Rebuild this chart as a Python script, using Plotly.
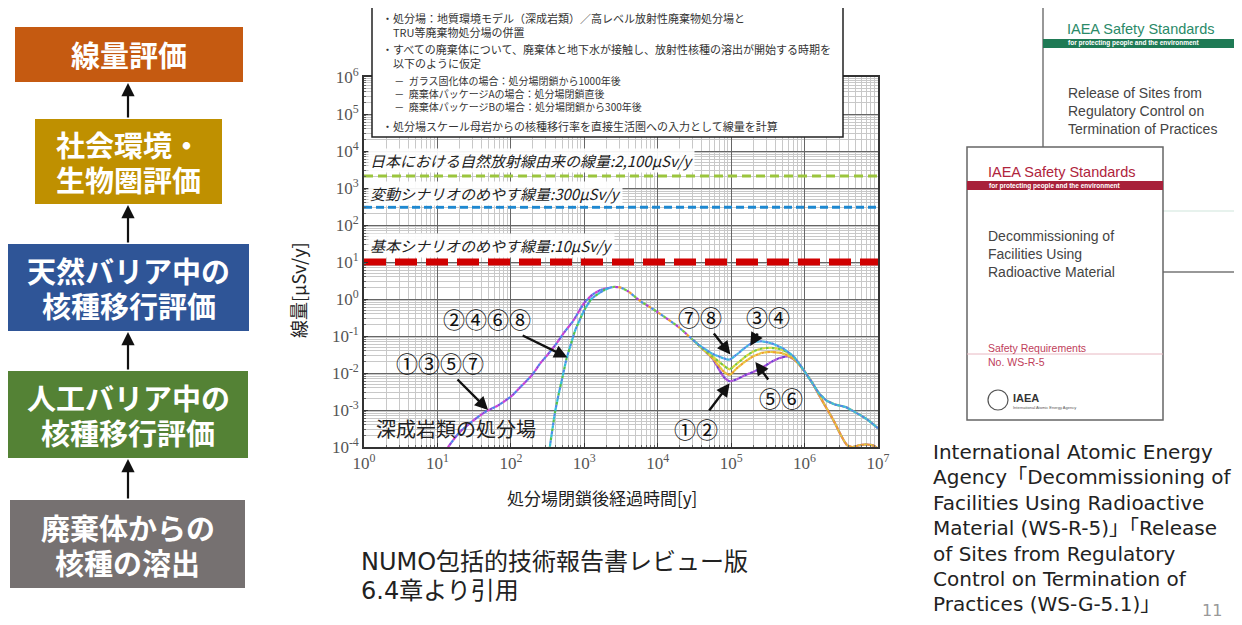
import plotly.graph_objects as go

# ---------------- data ----------------
# time after repository closure [y] and dose [uSv/y]
t_early_A = [12, 14, 20, 30, 45, 70, 100, 140, 195, 250, 320, 400, 540, 700, 1000, 1300, 1700, 2200]
d_early_A = [6.0e-5, 1.0e-4, 2.5e-4, 5.0e-4, 8.9e-4, 1.4e-3, 2.3e-3, 4.5e-3, 8.9e-3, 1.8e-2, 3.2e-2, 5.6e-2,
             0.13, 0.25, 0.79, 1.32, 1.78, 2.0]
t_early_B = [330, 340, 370, 400, 450, 500, 575, 650, 750, 850, 1000, 1250, 1550, 1900, 2200]
d_early_B = [5.0e-5, 1.0e-4, 3.2e-4, 8.9e-4, 2.8e-3, 7.1e-3, 2.5e-2, 5.6e-2, 0.14, 0.25, 0.5, 1.0, 1.38, 1.78, 2.0]
t_common = [2200, 2600, 3200, 4000, 5750, 10000, 19500, 30000]
d_common = [2.0, 2.14, 2.0, 1.58, 0.89, 0.44, 0.17, 0.079]

t_late_78 = [30000, 37000, 56000, 79000, 95000, 120000, 158000, 200000, 263000, 355000, 500000, 710000,
             1.0e6, 1.26e6, 1.58e6, 2.0e6, 2.63e6, 3.63e6, 5.0e6, 7.1e6, 1.0e7]
d_late_78 = [0.079, 0.056, 0.033, 0.025, 0.023, 0.032, 0.050, 0.068, 0.072, 0.063, 0.047, 0.028,
             0.011, 0.0056, 0.0028, 0.0018, 0.0014, 0.0012, 0.00085, 0.00056, 0.00032]
t_late_34 = [30000, 37000, 56000, 79000, 95000, 120000, 158000, 200000, 263000, 355000, 500000, 710000,
             1.0e6, 1.26e6, 1.58e6, 2.0e6, 2.63e6, 3.63e6, 5.0e6, 7.1e6, 1.0e7]
d_late_34 = [0.079, 0.054, 0.028, 0.016, 0.0126, 0.018, 0.028, 0.038, 0.046, 0.048, 0.042, 0.027,
             0.011, 0.0056, 0.0028, 0.0018, 0.0014, 0.0012, 0.00085, 0.00056, 0.00032]
t_late_56 = [30000, 37000, 56000, 79000, 95000, 120000, 158000, 200000, 263000, 355000, 500000, 710000,
             1.0e6, 1.26e6, 1.58e6, 2.0e6, 2.51e6, 3.16e6, 3.8e6, 4.47e6, 5.6e6, 7.1e6, 8.9e6, 1.0e7]
d_late_56 = [0.079, 0.054, 0.025, 0.011, 0.0089, 0.0135, 0.021, 0.028, 0.035, 0.037, 0.034, 0.024,
             0.011, 0.0056, 0.0025, 0.0011, 0.0005, 0.0002, 0.000112, 0.0001, 0.000112, 0.000117, 0.000107, 0.000089]
t_late_12 = [30000, 37000, 56000, 79000, 95000, 120000, 158000, 200000, 263000, 355000, 447000, 600000, 790000,
             1.0e6, 1.26e6, 1.58e6, 2.0e6, 2.51e6, 3.16e6, 3.8e6, 4.47e6, 5.6e6, 7.1e6, 8.9e6, 1.0e7]
d_late_12 = [0.079, 0.054, 0.024, 0.0079, 0.006, 0.0068, 0.0089, 0.0107, 0.014, 0.020, 0.025, 0.028, 0.020,
             0.011, 0.0056, 0.0025, 0.0011, 0.0005, 0.0002, 0.000112, 0.0001, 0.000112, 0.000117, 0.000107, 0.000089]

ref_levels = [2100, 300, 10]
ref_labels = ["日本における自然放射線由来の線量:2,100μSv/y",
              "変動シナリオのめやす線量:300μSv/y",
              "基本シナリオのめやす線量:10μSv/y"]

x_tick_vals = [1, 10, 100, 1e3, 1e4, 1e5, 1e6, 1e7]
x_tick_text = ["10<sup>0</sup>", "10<sup>1</sup>", "10<sup>2</sup>", "10<sup>3</sup>",
               "10<sup>4</sup>", "10<sup>5</sup>", "10<sup>6</sup>", "10<sup>7</sup>"]
y_tick_vals = [1e-4, 1e-3, 1e-2, 1e-1, 1, 10, 100, 1e3, 1e4, 1e5, 1e6]
y_tick_text = ["10<sup>-4</sup>", "10<sup>-3</sup>", "10<sup>-2</sup>", "10<sup>-1</sup>", "10<sup>0</sup>",
               "10<sup>1</sup>", "10<sup>2</sup>", "10<sup>3</sup>", "10<sup>4</sup>", "10<sup>5</sup>",
               "10<sup>6</sup>"]

flow_steps = [["線量評価"], ["社会環境・", "生物圏評価"], ["天然バリア中の", "核種移行評価"],
              ["人工バリア中の", "核種移行評価"], ["廃棄体からの", "核種の溶出"]]
flow_colors = ["#C55A11", "#BF9000", "#2F5597", "#548235", "#767171"]

box_blocks = [["・処分場：地質環境モデル（深成岩類）／高レベル放射性廃棄物処分場と",
               "　TRU等廃棄物処分場の併置"],
              ["・すべての廃棄体について、廃棄体と地下水が接触し、放射性核種の溶出が開始する時期を",
               "　以下のように仮定"],
              ["　 －  ガラス固化体の場合：処分場閉鎖から1000年後",
               "　 －  廃棄体パッケージAの場合：処分場閉鎖直後",
               "　 －  廃棄体パッケージBの場合：処分場閉鎖から300年後"],
              ["・処分場スケール母岩からの核種移行率を直接生活圏への入力として線量を計算"]]

ref_text = ["International Atomic Energy", "Agency「Decommissioning of", "Facilities Using Radioactive",
            "Material (WS-R-5)」「Release", "of Sites from Regulatory", "Control on Termination of",
            "Practices (WS-G-5.1)」"]

# ---------------- layout helpers ----------------
PAGE_W, PAGE_H, OFF = 1242, 625, 8          # page size and body margin of the html page
W, H = PAGE_W - OFF, PAGE_H - OFF
PX0, PX1, PY_TOP, PY_BOT = 364, 878, 77, 447  # plot area in page pixels
def fx(x):
    return (x - OFF) / W
def fy(y):
    return 1 - (y - OFF) / H

CJK = "Noto Sans CJK JP"
fig = go.Figure()

def add_segment(t, d, colors, seg=3):
    n = len(colors)
    for i, c in enumerate(colors):
        dash = f"0px,{i*seg}px,{seg}px,{(n-1-i)*seg}px"
        fig.add_trace(go.Scatter(x=t, y=d, mode="lines", line=dict(color=c, width=2.2, dash=dash,
                                 shape="spline", smoothing=0.6), hoverinfo="skip"))

# reference level lines
ref_styles = [dict(color="#9BC53D", width=3, dash="9px,5px"),
              dict(color="#1E88D0", width=3, dash="8px,4px"),
              dict(color="#D00000", width=7, dash="22px,9px")]
for lv, st in zip(ref_levels, ref_styles):
    fig.add_trace(go.Scatter(x=[1, 1e7], y=[lv, lv], mode="lines", line=st, hoverinfo="skip"))

add_segment(t_early_A, d_early_A, ["#d040d0", "#8a48e0", "#4f7fe8"])
add_segment(t_early_B, d_early_B, ["#50c050", "#30c0d8", "#4a90e8"])
add_segment(t_common, d_common, ["#4f8fe8", "#6cc848", "#b040d0", "#f0a030"])
add_segment(t_late_12, d_late_12, ["#7040d0", "#b050d8"])
add_segment(t_late_56, d_late_56, ["#f0a030", "#e8c838"])
add_segment(t_late_34, d_late_34, ["#78c840", "#d8d838"])
add_segment(t_late_78, d_late_78, ["#5088e8", "#40b8e0"])

axis_common = dict(type="log", showline=True, linecolor="#333", linewidth=1.6, mirror=True,
                   showgrid=True, gridcolor="#666", gridwidth=1.2, ticks="inside", ticklen=4,
                   tickcolor="#333", tickfont=dict(family="Liberation Serif", size=17, color="#555"),
                   zeroline=False, tickmode="array", automargin=False,
                   minor=dict(dtick="D1", showgrid=True, gridcolor="#c8c8c8", gridwidth=0.7,
                              ticks="inside", ticklen=2, tickcolor="#666"))

fig.update_layout(
    width=W, height=H, margin=dict(l=0, r=0, t=0, b=0, pad=0, autoexpand=False),
    paper_bgcolor="white", plot_bgcolor="white", showlegend=False,
    xaxis=dict(axis_common, range=[0, 7], domain=[fx(PX0), fx(PX1)],
               tickvals=x_tick_vals, ticktext=x_tick_text),
    yaxis=dict(axis_common, range=[-4, 6], domain=[fy(PY_BOT), fy(PY_TOP)],
               tickvals=y_tick_vals, ticktext=y_tick_text),
)

ann = []
shapes = []

def text_at(x, y, text, size, color="#222", family=CJK, xa="center", ya="middle", **kw):
    ann.append(dict(xref="paper", yref="paper", x=fx(x), y=fy(y), text=text, showarrow=False,
                    xanchor=xa, yanchor=ya, font=dict(family=family, size=size, color=color), **kw))

def rect(x0, x1, y0, y1, fill, line=None):
    shapes.append(dict(type="rect", xref="paper", yref="paper", x0=fx(x0), x1=fx(x1), y0=fy(y1), y1=fy(y0),
                       line=line or dict(width=0), fillcolor=fill, layer="above"))

def hline(x0, x1, y, color, width=1):
    shapes.append(dict(type="line", xref="paper", yref="paper", x0=fx(x0), x1=fx(x1), y0=fy(y), y1=fy(y),
                       line=dict(color=color, width=width), layer="above"))

# axis titles
text_at(298, 290, "線量[μSv/y]", 18, textangle=-90)
text_at(602, 497, "処分場閉鎖後経過時間[y]", 17)

# reference level labels
for lab, ypix in zip(ref_labels, [160, 193, 246]):
    text_at(368, ypix, f"<i>{lab}</i>", 15, xa="left", bgcolor="rgba(255,255,255,0.92)", borderpad=1)

# curve labels with arrows
def tip_px(lx, ly):
    return PX0 + lx * (PX1 - PX0) / 7, PY_BOT - (ly + 4) * (PY_BOT - PY_TOP) / 10

curve_labels = [("②④⑥⑧", 2.77, -1.58, 487, 318), ("①③⑤⑦", 1.69, -3.0, 440, 362),
                ("⑦⑧", 4.99, -1.5, 700, 316), ("③④", 5.26, -1.27, 768, 316),
                ("⑤⑥", 5.33, -1.7, 781, 397), ("①②", 4.98, -2.28, 696, 428)]
for txt, lx, ly, tx, ty in curve_labels:
    px_, py_ = tip_px(lx, ly)
    ann.append(dict(xref="x", yref="y", x=lx, y=ly, ax=tx - px_, ay=ty - py_, text=txt,
                    xanchor="center", yanchor="middle",
                    showarrow=True, arrowhead=2, arrowsize=1.1, arrowwidth=2.4, arrowcolor="#111",
                    standoff=0, font=dict(family=CJK, size=22, color="#111")))
text_at(374, 428, "深成岩類の処分場", 20, xa="left")

# top condition box
rect(372, 843, 1, 137, "white", dict(color="#222", width=1.5))
for block, ytop in zip(box_blocks, [8, 39, 71, 116]):
    text_at(380, ytop, "<br>".join(block), 11 if len(block) < 3 else 10, color="#333", xa="left", ya="top",
            align="left")

# left flow chart
boxes = [(15, 243, 27, 82), (35, 222, 119, 204), (8, 249, 244, 331), (8, 248, 371, 458), (10, 245, 500, 588)]
for (x0, x1, y0, y1), lines, col in zip(boxes, flow_steps, flow_colors):
    rect(x0, x1, y0, y1, col)
    cy = (y0 + y1) / 2
    n = len(lines)
    for k, ln in enumerate(lines):
        yy = cy + (k - (n - 1) / 2) * 35
        text_at((x0 + x1) / 2, yy, f"<b>{ln}</b>", 29, color="white")
for i in range(len(boxes) - 1):
    tip_y = boxes[i][3] + 1
    tail_y = boxes[i + 1][2]
    ann.append(dict(xref="paper", yref="paper", x=fx(128), y=fy(tip_y), ax=0, ay=tail_y - tip_y, text="",
                    showarrow=True, arrowhead=2, arrowsize=1.2, arrowwidth=2.2, arrowcolor="#111", standoff=0))

# bottom citation
text_at(359, 562, "NUMO包括的技術報告書レビュー版", 24, family="DejaVu Sans, " + CJK, xa="left")
text_at(359, 591, "6.4章より引用", 24, family="DejaVu Sans, " + CJK, xa="left")

# IAEA covers
# back cover
rect(1043, 1237, 0, 272, "white", dict(color="#777", width=1.5))
rect(1043, 1237, 39, 48, "#1f7a55")
hline(1043, 1237, 211, "#cfe6dc", 1.2)
text_at(1065, 29, "IAEA Safety Standards", 14.5, color="#2a8a68", family="Liberation Sans", xa="left")
text_at(1066, 43.5, "<b>for protecting people and the environment</b>", 6.5, color="white",
        family="Liberation Sans", xa="left")
for ln, yy in zip(["Release of Sites from", "Regulatory Control on", "Termination of Practices"], [93, 111, 129]):
    text_at(1066, yy, ln, 14, color="#444", family="Liberation Sans", xa="left")
# front cover
rect(967, 1163, 147, 420, "white", dict(color="#666", width=1.5))
rect(967, 1163, 181, 190, "#a8213a")
hline(967, 1163, 354, "#e8b8c2", 1)
shapes.append(dict(type="circle", xref="paper", yref="paper", x0=fx(988), x1=fx(1008), y0=fy(410), y1=fy(390),
                   line=dict(color="#555", width=1.2), fillcolor="white", layer="above"))
text_at(986, 172, "IAEA Safety Standards", 14.5, color="#b0243c", family="Liberation Sans", xa="left")
text_at(987, 185.5, "<b>for protecting people and the environment</b>", 6.5, color="white",
        family="Liberation Sans", xa="left")
for ln, yy in zip(["Decommissioning of", "Facilities Using", "Radioactive Material"], [236, 254, 272]):
    text_at(986, yy, ln, 14, color="#444", family="Liberation Sans", xa="left")
text_at(986, 348, "Safety Requirements", 10.5, color="#c0405a", family="Liberation Sans", xa="left")
text_at(986, 362, "No. WS-R-5", 10.5, color="#c0405a", family="Liberation Sans", xa="left")
text_at(1011, 398, "<b>IAEA</b>", 11, color="#333", family="Liberation Sans", xa="left")
text_at(1011, 407, "International Atomic Energy Agency", 4, color="#555", family="Liberation Sans", xa="left")

# reference text
for k, ln in enumerate(ref_text):
    text_at(931, 452 + k * 25.4, ln, 20, family="DejaVu Sans, " + CJK, xa="left")
text_at(1212, 610, "11", 16, color="#999", family="DejaVu Sans")

fig.update_layout(annotations=ann, shapes=shapes)
fig.write_html("out.html")
